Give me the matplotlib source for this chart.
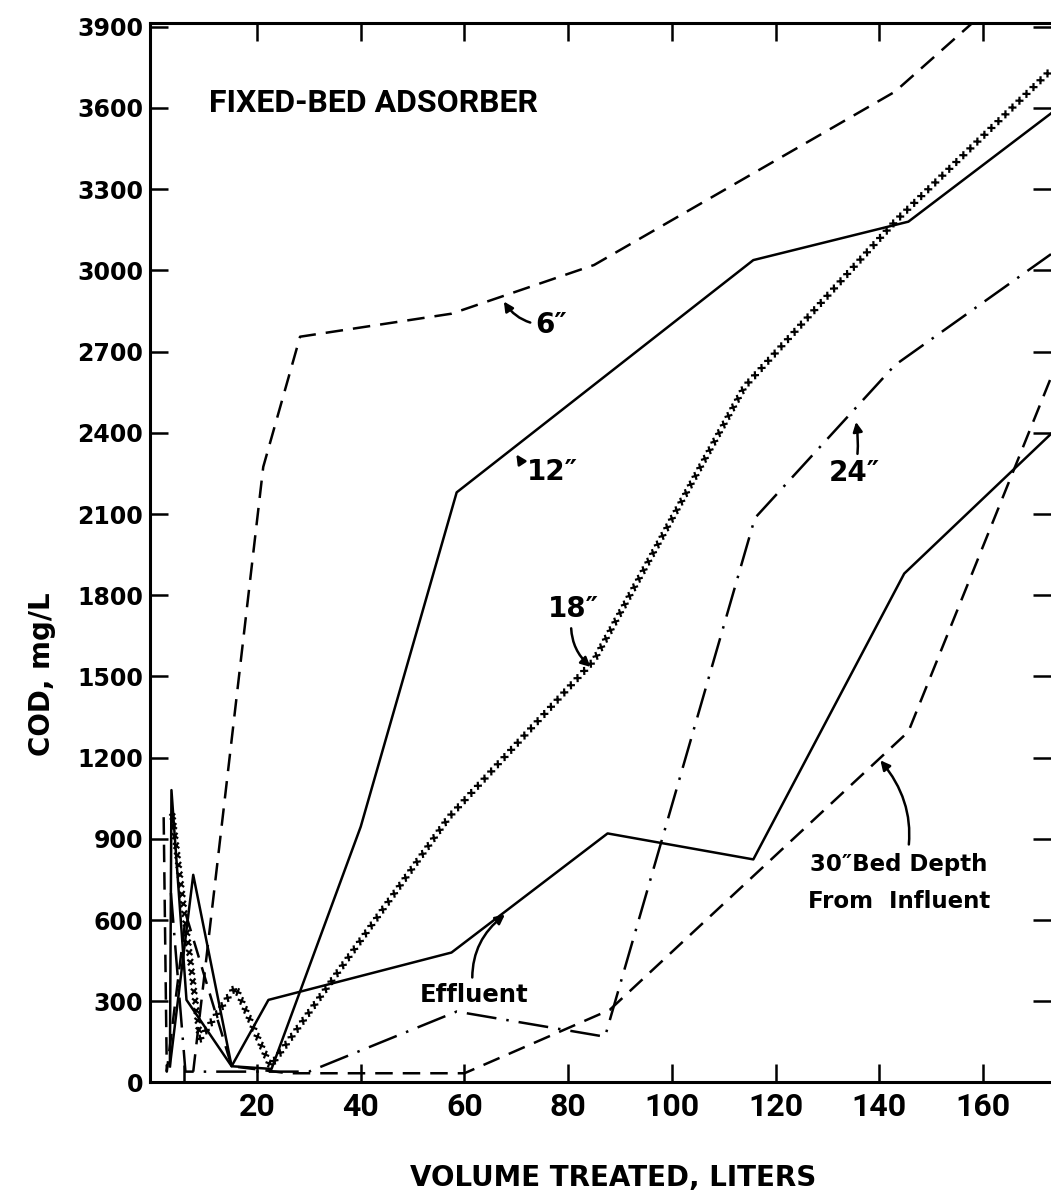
import matplotlib
matplotlib.use("Agg")
from matplotlib import pyplot as plt
from matplotlib import patheffects as pe
from matplotlib.ticker import FixedLocator

# COD (mg/L) against volume treated (L)
vol_6 = [7.7, 21.2, 28.3, 57.5, 85.0, 143.0, 173.0]
cod_6 = [40, 2274, 2755, 2840, 3020, 3660, 4170]

vol_12 = [3.2, 7.7, 15.1, 22.8, 40.0, 58.5, 115.7, 145.6, 173.1]
cod_12 = [60, 767, 60, 50, 945, 2180, 3038, 3180, 3580]

vol_18 = [3.6, 9.0, 15.8, 22.6, 57.0, 85.0, 114.0, 143.0, 173.1]
cod_18 = [1000, 160, 354, 60, 980, 1560, 2570, 3180, 3740]

vol_24 = [3.4, 6.2, 30.0, 58.5, 87.1, 116.0, 143.0, 173.1]
cod_24 = [700, 40, 40, 262, 169, 2085, 2650, 3060]

vol_30 = [2.0, 2.6, 6.3, 15.1, 26.0, 60.0, 88.0, 145.6, 173.1]
cod_30 = [980, 40, 620, 60, 34, 34, 268, 1296, 2604]

vol_eff = [3.2, 3.5, 6.4, 15.1, 22.2, 57.5, 87.6, 115.7, 144.8, 173.1]
cod_eff = [60, 1080, 305, 60, 305, 480, 920, 824, 1880, 2396]

x_ticks = [20, 40, 60, 80, 100, 120, 140, 160]
y_ticks = list(range(0, 3901, 300))

narrow = ["Roboto", "DejaVu Sans"]

fig = plt.figure(figsize=(10.51, 12.03), dpi=100)
ax = fig.add_axes([0.1427, 0.1002, 0.8573, 0.8807])

lw = 1.8
ax.plot(vol_6, cod_6, color="k", lw=lw, ls=(0, (7, 4)))
ax.plot(vol_12, cod_12, color="k", lw=lw, ls="-")
ax.plot(vol_24, cod_24, color="k", lw=lw, ls=(0, (12, 4, 1, 4)))
ax.plot(vol_30, cod_30, color="k", lw=lw, ls=(0, (7, 4)))
ax.plot(vol_eff, cod_eff, color="k", lw=lw, ls="-")

# 18" curve is drawn as a chain of small crosses
cross = dict(spacing=7, length=0.3, linewidth=1.6)
ax.plot(vol_18, cod_18, color="k", lw=0,
        path_effects=[pe.withTickedStroke(angle=a, **cross) for a in (45, -135, 135, -45)])

ax.set_xlim(-0.64, 173.1)
ax.set_ylim(0, 3914)

ax.set_xticks(x_ticks)
ax.set_xticklabels([str(v) for v in x_ticks], family=narrow, fontweight="bold", fontsize=23)
ax.xaxis.set_minor_locator(FixedLocator([6]))
ax.set_yticks(y_ticks)
ax.set_yticklabels([str(v) for v in y_ticks], fontweight="bold", fontsize=17)

ax.tick_params(axis="both", which="major", direction="in", length=13, width=1.8,
               top=True, right=True, pad=5)
ax.tick_params(axis="x", which="major", pad=7)
ax.tick_params(axis="x", which="minor", direction="in", length=12, width=1.8, top=False)
for side in ("left", "bottom", "top"):
    ax.spines[side].set_linewidth(2.2)
ax.spines["right"].set_visible(False)

ax.text(10.8, 3620, "FIXED-BED ADSORBER", family=narrow, fontweight="bold",
        fontsize=23, ha="left", va="center")

arrow = dict(arrowstyle="-|>", color="k", lw=1.8, mutation_scale=14, shrinkA=2, shrinkB=0)

ax.annotate("6″", xy=(67.6, 2885), xytext=(76.8, 2800), ha="center", va="center",
            fontsize=20, fontweight="bold",
            arrowprops=dict(arrow, connectionstyle="arc3,rad=-0.3"))
ax.annotate("12″", xy=(70.0, 2320), xytext=(77.0, 2255), ha="center", va="center",
            fontsize=20, fontweight="bold",
            arrowprops=dict(arrow, connectionstyle="arc3,rad=-0.3"))
ax.annotate("18″", xy=(84.3, 1535), xytext=(81.0, 1750), ha="center", va="center",
            fontsize=20, fontweight="bold",
            arrowprops=dict(arrow, connectionstyle="arc3,rad=0.3"))
ax.annotate("24″", xy=(135.5, 2440), xytext=(135.2, 2250), ha="center", va="center",
            fontsize=20, fontweight="bold",
            arrowprops=dict(arrow, connectionstyle="arc3,rad=0.1"))
ax.annotate("Effluent", xy=(67.8, 620), xytext=(61.8, 323), ha="center", va="center",
            fontsize=17.5, fontweight="bold",
            arrowprops=dict(arrow, connectionstyle="arc3,rad=-0.3"))
ax.annotate("30″Bed Depth\nFrom  Influent", xy=(140.2, 1190), xytext=(143.8, 737),
            ha="center", va="center", fontsize=16.5, fontweight="bold", linespacing=1.8,
            arrowprops=dict(arrow, connectionstyle="arc3,rad=0.3", shrinkA=4))

ax.set_xlabel("VOLUME TREATED, LITERS", fontsize=20, fontweight="bold")
ax.xaxis.set_label_coords(0.514, -0.077)
ax.set_ylabel("COD, mg/L", fontsize=20, fontweight="bold")
ax.yaxis.set_label_coords(-0.104, 0.385)

fig.savefig("out.png", dpi=100, facecolor="white")
